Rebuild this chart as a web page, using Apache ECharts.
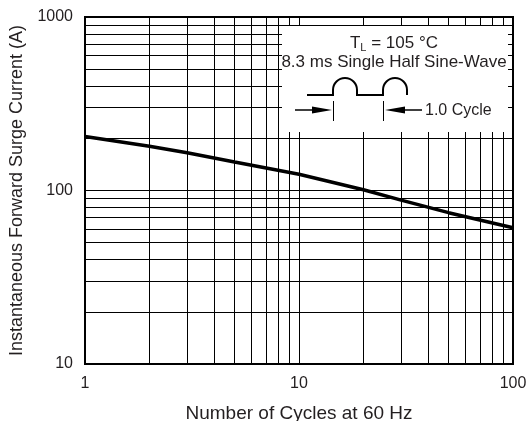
<!DOCTYPE html>
<html>
<head>
<meta charset="utf-8">
<script src="https://cdn.jsdelivr.net/npm/echarts@6/dist/echarts.min.js"></script>
<style>html,body{margin:0;padding:0;background:#fff}#c{width:526px;height:421px}</style>
</head>
<body>
<div id="c"></div>
<script>
// Data
const cycles = [1, 2, 3, 5, 10, 20, 30, 50, 100];
const surgeCurrent = [205, 180, 165, 146, 124, 101, 88, 74.5, 61];
const xMinorGrid = [2, 3, 4, 5, 6, 7, 8, 9, 20, 30, 40, 50, 60, 70, 80, 90];
const yMinorGrid = [20, 30, 40, 50, 60, 70, 80, 90, 200, 300, 400, 500, 600, 700, 800, 900];
const xTicks = [1, 10, 100];
const yTicks = [10, 100, 1000];

const FONT = '"Liberation Sans", Arial, Helvetica, sans-serif';
const TXT = '#231f20';

const chart = echarts.init(document.getElementById('c'), null, {renderer: 'canvas'});

const markData = []
  .concat(xMinorGrid.map(v => ({xAxis: v})))
  .concat(yMinorGrid.map(v => ({yAxis: v})));

chart.setOption({
  animation: false,
  backgroundColor: '#fff',
  grid: {left: 85, right: 13, top: 17, bottom: 57, show: true, borderColor: '#000', borderWidth: 2, backgroundColor: 'transparent', containLabel: false, outerBoundsMode: 'none'},
  xAxis: {
    type: 'log', logBase: 10, min: xTicks[0], max: xTicks[xTicks.length - 1],
    name: 'Number of Cycles at 60 Hz', nameLocation: 'middle', nameGap: 40,
    nameTextStyle: {fontFamily: FONT, fontSize: 19, color: TXT},
    axisLine: {show: false}, axisTick: {show: false},
    axisLabel: {fontFamily: FONT, fontSize: 16, color: TXT, margin: 12, formatter: v => String(v)},
    splitLine: {show: true, lineStyle: {color: '#000', width: 1}}
  },
  yAxis: {
    type: 'log', logBase: 10, min: yTicks[0], max: yTicks[yTicks.length - 1],
    name: 'Instantaneous Forward Surge Current (A)', nameLocation: 'middle', nameGap: 58,
    nameTextStyle: {fontFamily: FONT, fontSize: 18, color: TXT},
    axisLine: {show: false}, axisTick: {show: false},
    axisLabel: {fontFamily: FONT, fontSize: 16, color: TXT, margin: 12, formatter: v => String(v)},
    splitLine: {show: true, lineStyle: {color: '#000', width: 1}}
  },
  series: [{
    type: 'line',
    data: cycles.map((c, i) => [c, surgeCurrent[i]]),
    symbol: 'none',
    smooth: false,
    lineStyle: {color: '#000', width: 3.5},
    z: 3,
    markLine: {
      silent: true,
      symbol: ['none', 'none'],
      label: {show: false},
      lineStyle: {color: '#000', width: 1, type: 'solid'},
      emphasis: {disabled: true},
      data: markData
    }
  }],
  graphic: [
    {type: 'rect', z: 100, shape: {x: 282, y: 26, width: 226, height: 106}, style: {fill: '#fff'}},
    {type: 'text', z: 101, style: {
      x: 394, y: 43, align: 'center', verticalAlign: 'middle',
      text: '{a|T}{s|L}{a| = 105 °C}',
      rich: {a: {fontFamily: FONT, fontSize: 17, fill: TXT, verticalAlign: 'middle'}, s: {fontFamily: FONT, fontSize: 11, fill: TXT, padding: [9, 0, 0, 0]}}
    }},
    {type: 'text', z: 101, style: {x: 394, y: 62, align: 'center', verticalAlign: 'middle', text: '8.3 ms Single Half Sine-Wave', font: '17px ' + FONT, fill: TXT}},
    {type: 'polyline', z: 101, shape: {points: [[307, 95], [333, 95], [333, 90]]}, style: {stroke: '#000', lineWidth: 2, fill: null}},
    {type: 'arc', z: 101, shape: {cx: 345, cy: 90, r: 12, startAngle: Math.PI, endAngle: 2 * Math.PI, clockwise: true}, style: {stroke: '#000', lineWidth: 2, fill: null}},
    {type: 'polyline', z: 101, shape: {points: [[357, 90], [357, 95], [383, 95], [383, 90]]}, style: {stroke: '#000', lineWidth: 2, fill: null}},
    {type: 'arc', z: 101, shape: {cx: 395, cy: 90, r: 12, startAngle: Math.PI, endAngle: 2 * Math.PI, clockwise: true}, style: {stroke: '#000', lineWidth: 2, fill: null}},
    {type: 'polyline', z: 101, shape: {points: [[407, 90], [407, 95]]}, style: {stroke: '#000', lineWidth: 2, fill: null}},
    {type: 'line', z: 101, shape: {x1: 295, y1: 110, x2: 315, y2: 110}, style: {stroke: '#000', lineWidth: 1.5}},
    {type: 'polygon', z: 101, shape: {points: [[312, 106.5], [332, 110], [312, 113.5]]}, style: {fill: '#000'}},
    {type: 'line', z: 101, shape: {x1: 333.5, y1: 101, x2: 333.5, y2: 121}, style: {stroke: '#000', lineWidth: 1}},
    {type: 'line', z: 101, shape: {x1: 383.5, y1: 101, x2: 383.5, y2: 121}, style: {stroke: '#000', lineWidth: 1}},
    {type: 'polygon', z: 101, shape: {points: [[405, 106.5], [385, 110], [405, 113.5]]}, style: {fill: '#000'}},
    {type: 'line', z: 101, shape: {x1: 402, y1: 110, x2: 422, y2: 110}, style: {stroke: '#000', lineWidth: 1.5}},
    {type: 'text', z: 101, style: {x: 425, y: 111, align: 'left', verticalAlign: 'middle', text: '1.0 Cycle', font: '16px ' + FONT, fill: TXT}}
  ]
});
</script>
</body>
</html>
